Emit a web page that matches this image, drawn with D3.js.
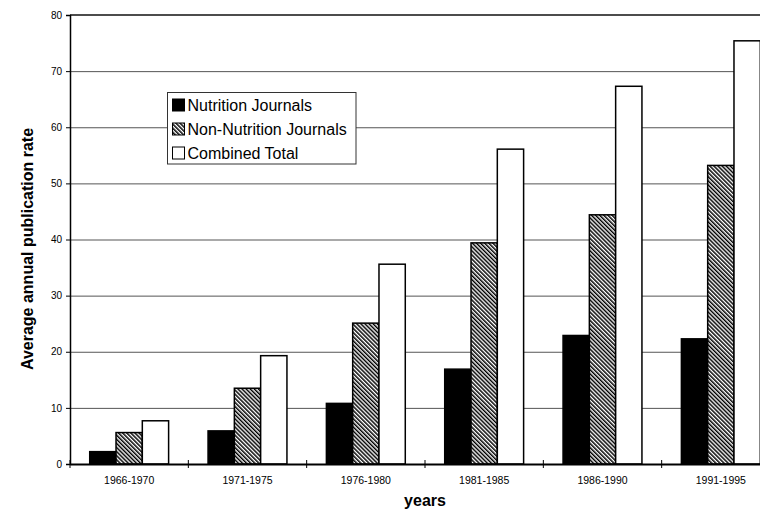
<!DOCTYPE html>
<html>
<head>
<meta charset="utf-8">
<script src="https://cdn.jsdelivr.net/npm/d3@7"></script>
<style>
  html, body { margin: 0; padding: 0; background: #fff; }
  svg { display: block; font-family: Arial, "Liberation Sans", sans-serif; }
</style>
</head>
<body>
<svg id="chart" width="760" height="512"></svg>
<script>
// Average annual publication rate per five-year period
const categories = ["1966-1970", "1971-1975", "1976-1980", "1981-1985", "1986-1990", "1991-1995"];
const seriesNames = ["Nutrition Journals", "Non-Nutrition Journals", "Combined Total"];
const nutrition = [2.2, 5.9, 10.8, 16.9, 22.9, 22.3];
const nonNutrition = [5.6, 13.5, 25.1, 39.4, 44.4, 53.2];
const combined = [7.7, 19.3, 35.6, 56.1, 67.3, 75.4];
const yTicks = [0, 10, 20, 30, 40, 50, 60, 70, 80];

const seriesValues = [nutrition, nonNutrition, combined];
const fills = ["#000", "url(#hatch)", "#fff"];

const svg = d3.select("#chart");
const margin = { left: 70, top: 15, right: 780, bottom: 464 };

// diagonal hatch fill
const defs = svg.append("defs");
const pat = defs.append("pattern")
  .attr("id", "hatch")
  .attr("patternUnits", "userSpaceOnUse")
  .attr("width", 2.9).attr("height", 10)
  .attr("patternTransform", "rotate(-45)");
pat.append("rect").attr("width", 2.9).attr("height", 10).attr("fill", "#fff");
pat.append("rect").attr("width", 1.5).attr("height", 10).attr("fill", "#000");

const x = d3.scaleBand().domain(categories).range([margin.left, margin.right]).paddingInner(0).paddingOuter(0);
const xs = d3.scaleBand().domain(seriesNames).range([0, x.bandwidth()]).paddingInner(0).paddingOuter(0.75);
const y = d3.scaleLinear().domain([0, 80]).range([margin.bottom, margin.top]);

// gridlines
svg.append("g")
  .attr("transform", `translate(${margin.left},0)`)
  .call(d3.axisLeft(y).tickValues(yTicks.filter(v => v > 0 && v < 80)).tickSize(-(margin.right - margin.left)).tickFormat(""))
  .call(g => g.select(".domain").remove())
  .call(g => g.selectAll("line").attr("stroke", "#555").attr("stroke-width", 1));

// top frame line
svg.append("line")
  .attr("x1", margin.left).attr("x2", margin.right)
  .attr("y1", y(80)).attr("y2", y(80))
  .attr("stroke", "#111").attr("stroke-width", 1.5);

// bars
const groups = svg.append("g").selectAll("g")
  .data(categories)
  .join("g")
  .attr("transform", d => `translate(${x(d)},0)`);

groups.selectAll("rect")
  .data((d, i) => seriesNames.map((s, k) => ({ s, k, v: seriesValues[k][i] })))
  .join("rect")
  .attr("x", d => xs(d.s))
  .attr("width", xs.bandwidth())
  .attr("y", d => y(d.v))
  .attr("height", d => y(0) - y(d.v))
  .attr("fill", d => fills[d.k])
  .attr("stroke", "#000")
  .attr("stroke-width", 1.5);

// y axis
svg.append("g")
  .attr("transform", `translate(${margin.left},0)`)
  .call(d3.axisLeft(y).tickValues(yTicks).tickSize(4).tickPadding(4))
  .call(g => g.select(".domain").attr("stroke", "#000").attr("stroke-width", 1.5))
  .call(g => g.selectAll("line").attr("stroke", "#000"))
  .call(g => g.selectAll("text").attr("font-size", 10).attr("font-family", "Arial, 'Liberation Sans', sans-serif").attr("fill", "#000"));

// x axis with category labels
svg.append("g")
  .attr("transform", `translate(0,${margin.bottom})`)
  .call(d3.axisBottom(x).tickSize(0).tickPadding(12.5))
  .call(g => g.select(".domain").attr("stroke", "#000").attr("stroke-width", 2))
  .call(g => g.selectAll("text").attr("font-size", 10.5).attr("font-family", "Arial, 'Liberation Sans', sans-serif").attr("fill", "#000"));

// category boundary ticks
svg.append("g").selectAll("line")
  .data(categories)
  .join("line")
  .attr("x1", d => x(d)).attr("x2", d => x(d))
  .attr("y1", margin.bottom - 4).attr("y2", margin.bottom + 4)
  .attr("stroke", "#000").attr("stroke-width", 1);

// axis titles
svg.append("text")
  .attr("transform", `translate(33,249) rotate(-90)`)
  .attr("text-anchor", "middle")
  .attr("font-size", 16).attr("font-weight", "bold")
  .text("Average annual publication rate");

svg.append("text")
  .attr("x", (margin.left + margin.right) / 2).attr("y", 506)
  .attr("text-anchor", "middle")
  .attr("font-size", 16).attr("font-weight", "bold")
  .text("years");

// legend
const legend = svg.append("g").attr("transform", "translate(167.5,92.5)");
legend.append("rect")
  .attr("width", 188.5).attr("height", 71.5)
  .attr("fill", "#fff").attr("stroke", "#333").attr("stroke-width", 1);
const rowY = [12.5, 36.5, 60.5];
const items = legend.selectAll("g.item")
  .data(seriesNames)
  .join("g").attr("class", "item")
  .attr("transform", (d, i) => `translate(5,${rowY[i]})`);
items.append("rect")
  .attr("x", 0).attr("y", -6).attr("width", 12).attr("height", 12)
  .attr("fill", (d, i) => fills[i]).attr("stroke", "#000").attr("stroke-width", 1);
items.append("text")
  .attr("x", 15).attr("y", 0).attr("dy", "0.36em")
  .attr("font-size", 16)
  .text(d => d);
</script>
</body>
</html>
